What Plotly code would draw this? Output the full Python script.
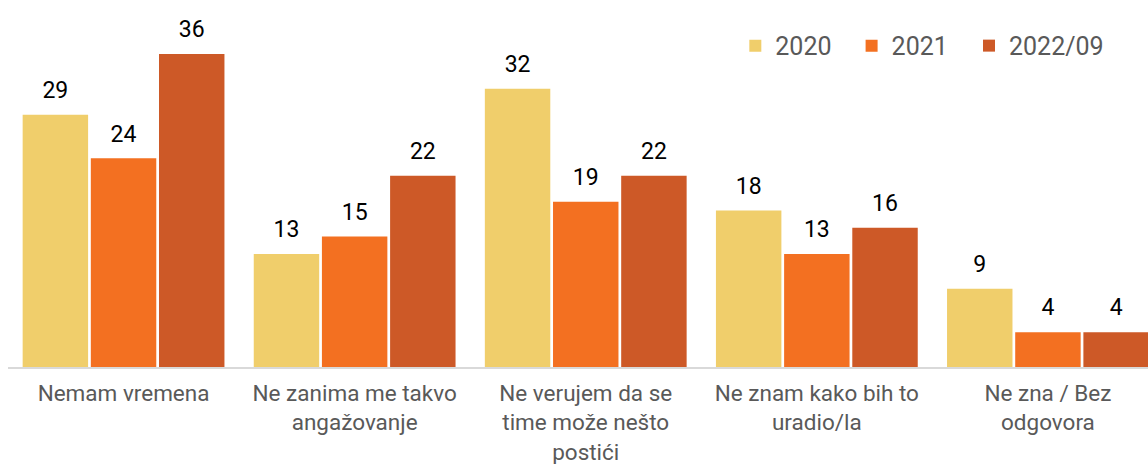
import plotly.graph_objects as go

categories = [
    "Nemam vremena",
    "Ne zanima me takvo<br>angažovanje",
    "Ne verujem da se<br>time može nešto<br>postići",
    "Ne znam kako bih to<br>uradio/la",
    "Ne zna / Bez<br>odgovora",
]
series_names = ["2020", "2021", "2022/09"]
values_2020 = [29, 13, 32, 18, 9]
values_2021 = [24, 15, 19, 13, 4]
values_2022 = [36, 22, 22, 16, 4]
colors = ["#F0CE6B", "#F37021", "#CD5927"]

series_values = [values_2020, values_2021, values_2022]
legend_refs = ["legend", "legend2", "legend3"]
legend_x = [0.638, 0.740, 0.843]

fig = go.Figure()
for name, vals, col, lg in zip(series_names, series_values, colors, legend_refs):
    fig.add_trace(go.Bar(
        x=categories, y=vals, name=name,
        marker=dict(color=col, line=dict(width=0)),
        hoverinfo="skip", offsetgroup=name, legend=lg,
    ))

# value labels, grouped like the bars so each sits over its own column
for name, vals in zip(series_names, series_values):
    fig.add_trace(go.Scatter(
        x=categories, y=vals, mode="markers+text",
        text=[str(v) for v in vals], textposition="top center",
        textfont=dict(family="Roboto", size=23, color="#000000"),
        marker=dict(size=16, opacity=0),
        showlegend=False, hoverinfo="skip", cliponaxis=False,
        offsetgroup=name,
    ))

legend_style = dict(
    orientation="h", xanchor="left", y=0.875, yanchor="middle",
    font=dict(family="Roboto", size=25, color="#595959"),
    bgcolor="rgba(0,0,0,0)", itemwidth=30,
)

fig.update_layout(
    width=1148, height=464,
    margin=dict(l=8, r=0, t=0, b=97, autoexpand=False),
    paper_bgcolor="white", plot_bgcolor="white",
    barmode="group", bargap=0.115, bargroupgap=0.04,
    scattermode="group", scattergap=0.115,
    font=dict(family="Roboto", size=22.5, color="#595959"),
    showlegend=True,
    legend=dict(x=legend_x[0], **legend_style),
    legend2=dict(x=legend_x[1], **legend_style),
    legend3=dict(x=legend_x[2], **legend_style),
    xaxis=dict(
        type="category", range=[-0.5, 4.433], automargin=False,
        showline=True, linecolor="#D9D9D9", linewidth=2,
        ticks="", showgrid=False, ticklabelstandoff=5,
        tickfont=dict(family="Roboto", size=22.5, color="#595959"),
    ),
    yaxis=dict(
        range=[0, 42.2], showticklabels=False, showgrid=False,
        zeroline=False, showline=False, ticks="", automargin=False,
    ),
)

fig.write_html("out.html")
